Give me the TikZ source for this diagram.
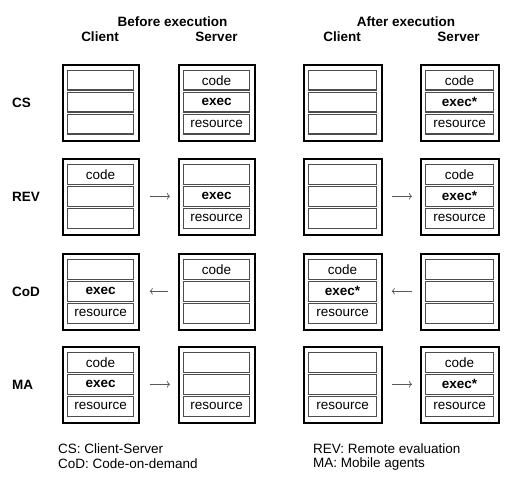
\documentclass[tikz,border=0pt]{standalone}
\usepackage{fontspec}
\setmainfont{Liberation Sans}
\usetikzlibrary{arrows.meta}
\newcommand\machinebox[7]{%
  \node[outerbox,minimum width={#4*1pt}] (#1) at (#2,#3) {};
  \node[innerbox,minimum width={(#4-10)*1pt}] (#1-1) at (#2+5,#3+6) {#5};
  \node[innerbox,minimum width={(#4-10)*1pt}] (#1-2) at (#2+5,#3+28) {#6};
  \node[innerbox,minimum width={(#4-10)*1pt}] (#1-3) at (#2+5,#3+50) {#7};
}
\begin{document}
\begin{tikzpicture}[x=1pt,y=-1pt,
  every node/.style={font=\fontsize{13.5}{16}\selectfont},
  outerbox/.style={draw=black,line width=1.7pt,anchor=north west,minimum height=76pt,inner sep=0pt},
  innerbox/.style={draw=black!70,line width=1.1pt,anchor=north west,minimum height=19.5pt,inner sep=0pt},
  head/.style={font=\fontsize{13.5}{16}\selectfont\bfseries,inner sep=0pt},
  rowlabel/.style={font=\fontsize{13.5}{16}\selectfont\bfseries,anchor=west,inner sep=0pt},
  legend/.style={anchor=west,inner sep=0pt},
  arr/.style={-{To[length=3pt,width=6.5pt]},draw=black!65,line width=0.7pt}]
\useasboundingbox (0,0) rectangle (524,489);
% headers
\node[head] (hb) at (172.5,22) {Before execution};
\node[head] (hbc) at (100,37) {Client};
\node[head] (hbs) at (216.5,37) {Server};
\node[head] (ha) at (406,22) {After execution};
\node[head] (hac) at (342,37) {Client};
\node[head] (has) at (458.5,37) {Server};
% row labels
\node[rowlabel] (lcs) at (12,102.5) {CS};
\node[rowlabel] (lrev) at (12,196.5) {REV};
\node[rowlabel] (lcod) at (12,291.5) {CoD};
\node[rowlabel] (lma) at (12,384.5) {MA};
% CS
\machinebox{csbc}{62}{64}{76}{}{}{}
\machinebox{csbs}{178}{64}{76}{code}{\textbf{exec}}{resource}
\machinebox{csac}{303}{64}{78}{}{}{}
\machinebox{csas}{420}{64}{78}{code}{\textbf{exec*}}{resource}
% REV
\machinebox{revbc}{62}{158}{76}{code}{}{}
\machinebox{revbs}{178}{158}{76}{}{\textbf{exec}}{resource}
\machinebox{revac}{303}{158}{78}{}{}{}
\machinebox{revas}{420}{158}{78}{code}{\textbf{exec*}}{resource}
% CoD
\machinebox{codbc}{62}{253}{76}{}{\textbf{exec}}{resource}
\machinebox{codbs}{178}{253}{76}{code}{}{}
\machinebox{codac}{303}{253}{78}{code}{\textbf{exec*}}{resource}
\machinebox{codas}{420}{253}{78}{}{}{}
% MA
\machinebox{mabc}{62}{346}{76}{code}{\textbf{exec}}{resource}
\machinebox{mabs}{178}{346}{76}{}{}{resource}
\machinebox{maac}{303}{346}{78}{}{}{resource}
\machinebox{maas}{420}{346}{78}{code}{\textbf{exec*}}{resource}
% arrows
\draw[arr,shorten <=10pt,shorten >=8pt] (revbc-2 -| revbc.east) -- (revbs-2 -| revbs.west);
\draw[arr,shorten <=9pt,shorten >=8pt] (revac-2 -| revac.east) -- (revas-2 -| revas.west);
\draw[arr,shorten <=10pt,shorten >=10pt] (codbs-2 -| codbs.west) -- (codbc-2 -| codbc.east);
\draw[arr,shorten <=8pt,shorten >=9pt] (codas-2 -| codas.west) -- (codac-2 -| codac.east);
\draw[arr,shorten <=10pt,shorten >=8pt] (mabc-2 -| mabc.east) -- (mabs-2 -| mabs.west);
\draw[arr,shorten <=9pt,shorten >=8pt] (maac-2 -| maac.east) -- (maas-2 -| maas.west);
% legend
\node[legend] (lg1) at (58,449) {CS: Client-Server};
\node[legend] (lg2) at (58,464) {CoD: Code-on-demand};
\node[legend] (lg3) at (313,449) {REV: Remote evaluation};
\node[legend] (lg4) at (313,464) {MA: Mobile agents};
\end{tikzpicture}
\end{document}
